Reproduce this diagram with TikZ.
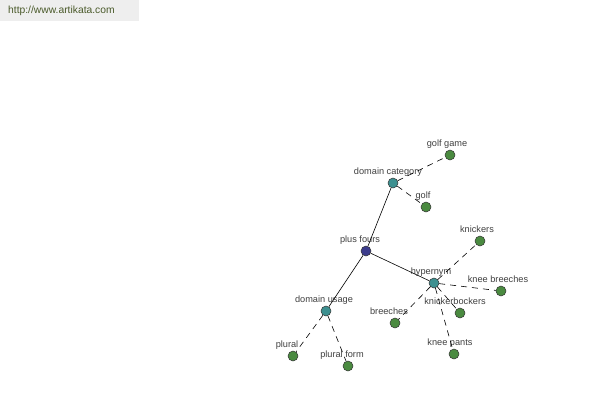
\documentclass[tikz,border=0pt]{standalone}
\usepackage{fontspec}
\setmainfont{Liberation Sans}
\definecolor{hdrbg}{HTML}{EEEEEE}
\definecolor{hdrtxt}{HTML}{4A5A2A}
\definecolor{labtxt}{HTML}{404040}
\definecolor{rootc}{HTML}{3C3C8C}
\definecolor{relc}{HTML}{3D9090}
\definecolor{leafc}{HTML}{4A8A40}
\begin{document}
\begin{tikzpicture}[x=1pt,y=-1pt,
  lab/.style={font=\fontsize{9.2}{10}\selectfont, text=labtxt, inner sep=1pt, text height=6.5pt, text depth=2pt},
  dot/.style={circle, draw=black!80, line width=0.5pt, minimum size=10pt, inner sep=0pt},
  root/.style={dot, fill=rootc},
  rel/.style={dot, fill=relc},
  leaf/.style={dot, fill=leafc},
  solidedge/.style={draw=black, line width=0.6pt},
  dashedge/.style={draw=black, line width=0.6pt, dash pattern=on 6pt off 5pt}]
\useasboundingbox (0,0) rectangle (600,400);
\fill[white] (0,0) rectangle (600,400);
\node[fill=hdrbg, minimum width=139pt, minimum height=21pt, anchor=north west, inner sep=0pt] (hdr) at (0,0) {};
\node[anchor=west, text=hdrtxt, font=\fontsize{10.3}{11}\selectfont, inner sep=0pt] (url) at (8,11) {http://www.artikata.com};

% nodes
\node[root, label={[lab,xshift=-6pt]above:plus fours}] (pf) at (366,251) {};
\node[rel, label={[lab,xshift=-5pt]above:domain category}] (dc) at (393,183) {};
\node[rel, label={[lab,xshift=-3pt]above:hypernym}] (hy) at (434,283) {};
\node[rel, label={[lab,xshift=-2pt]above:domain usage}] (du) at (326,311) {};
\node[leaf, label={[lab,xshift=-3pt]above:golf game}] (gg) at (450,155) {};
\node[leaf, label={[lab,xshift=-3pt]above:golf}] (go) at (426,207) {};
\node[leaf, label={[lab,xshift=-3pt]above:knickers}] (kn) at (480,241) {};
\node[leaf, label={[lab,xshift=-3pt]above:knee breeches}] (kb) at (501,291) {};
\node[leaf, label={[lab,xshift=-5pt]above:knickerbockers}] (kk) at (460,313) {};
\node[leaf, label={[lab,xshift=-6pt]above:breeches}] (br) at (395,323) {};
\node[leaf, label={[lab,xshift=-4pt]above:knee pants}] (kp) at (454,354) {};
\node[leaf, label={[lab,xshift=-6pt]above:plural}] (pl) at (293,356) {};
\node[leaf, label={[lab,xshift=-6pt]above:plural form}] (pfm) at (348,366) {};

% edges
\path[solidedge] (pf) -- (dc);
\path[solidedge] (pf) -- (hy);
\path[solidedge] (pf) -- (du);
\path[dashedge] (dc) -- (gg);
\path[dashedge] (dc) -- (go);
\path[dashedge] (hy) -- (kn);
\path[dashedge] (hy) -- (kb);
\path[dashedge] (hy) -- (kk);
\path[dashedge] (hy) -- (br);
\path[dashedge] (hy) -- (kp);
\path[dashedge] (du) -- (pl);
\path[dashedge] (du) -- (pfm);
\end{tikzpicture}
\end{document}
